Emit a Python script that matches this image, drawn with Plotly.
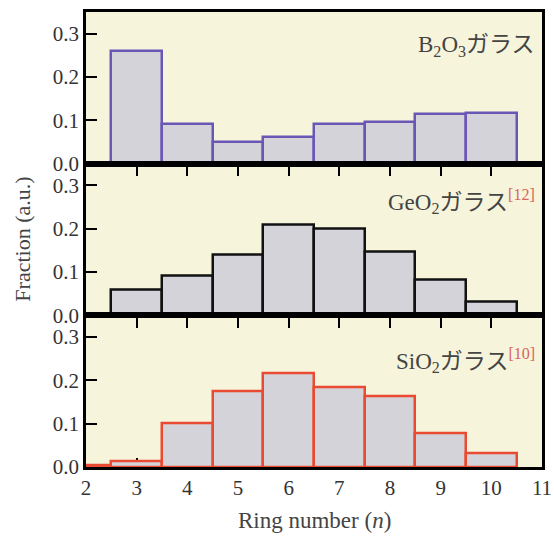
import plotly.graph_objects as go
from plotly.subplots import make_subplots

# Data
ring_b2o3 = [3, 4, 5, 6, 7, 8, 9, 10]
frac_b2o3 = [0.260, 0.091, 0.051, 0.061, 0.092, 0.096, 0.114, 0.116]

ring_geo2 = [2, 3, 4, 5, 6, 7, 8, 9, 10]
frac_geo2 = [0.003, 0.060, 0.091, 0.139, 0.209, 0.201, 0.148, 0.083, 0.031]

ring_sio2 = [2, 3, 4, 5, 6, 7, 8, 9, 10]
frac_sio2 = [0.003, 0.013, 0.100, 0.175, 0.217, 0.185, 0.164, 0.077, 0.032]

x_ticks = [2, 3, 4, 5, 6, 7, 8, 9, 10, 11]
inner_ticks = [3, 4, 5, 6, 7, 8, 9, 10]
y_ticks = [0.0, 0.1, 0.2, 0.3]
y_ticktext = ["0.0", "0.1", "0.2", "0.3"]

labels = ["B<sub>2</sub>O<sub>3</sub>ガラス",
          "GeO<sub>2</sub>ガラス<sup><span style='color:#d9645c'>[12]</span></sup>",
          "SiO<sub>2</sub>ガラス<sup><span style='color:#d9645c'>[10]</span></sup>"]
label_y = [0.272, 0.262, 0.245]
edge_colors = ["#6a56b4", "#111111", "#ea4a32"]

FILL = "#d3d3d9"
BG = "#f6f5dc"
FONT = "Liberation Serif, Noto Sans CJK JP, serif"

fig = make_subplots(rows=3, cols=1, shared_xaxes=False, vertical_spacing=0)

series = [(ring_b2o3, frac_b2o3), (ring_geo2, frac_geo2), (ring_sio2, frac_sio2)]
for i, (xs, ys) in enumerate(series):
    fig.add_trace(go.Bar(x=xs, y=ys, width=1.0,
                         marker=dict(color=FILL, line=dict(color=edge_colors[i], width=2.5)),
                         showlegend=False), row=i + 1, col=1)

domains = [[2 / 3, 1.0], [1 / 3, 2 / 3], [0.0, 1 / 3]]
for i in range(3):
    r = i + 1
    last = (i == 2)
    fig.update_xaxes(row=r, col=1, range=[2, 11], domain=[0, 1], automargin=False,
                     showline=True, mirror=True, linecolor="black", linewidth=2.5,
                     ticks="inside" if last else "outside",
                     ticklen=9 if last else 10, tickwidth=2, tickcolor="black",
                     tickvals=x_ticks if last else inner_ticks,
                     showticklabels=last, showgrid=False, zeroline=False,
                     layer="below traces" if last else "above traces",
                     tickfont=dict(family=FONT, size=21, color="#333333"))
    fig.update_yaxes(row=r, col=1, range=[0, 0.35], domain=domains[i], automargin=False,
                     showline=True, mirror=True, linecolor="black", linewidth=2.5,
                     ticks="inside", ticklen=11, tickwidth=2, tickcolor="black",
                     tickvals=y_ticks, ticktext=y_ticktext,
                     showgrid=False, zeroline=False,
                     tickfont=dict(family=FONT, size=21, color="#333333"))
    xref = "x" if r == 1 else f"x{r}"
    yref = "y" if r == 1 else f"y{r}"
    fig.add_annotation(x=10.9, y=label_y[i], xref=xref, yref=yref,
                       text=labels[i], showarrow=False, xanchor="right", yanchor="middle",
                       font=dict(family=FONT, size=23, color="#444444"))

fig.add_annotation(x=-0.14, y=0.5, xref="paper", yref="paper", xanchor="center", yanchor="middle",
                   text="Fraction (a.u.)", textangle=-90, showarrow=False,
                   font=dict(family=FONT, size=22, color="#444444"))

fig.add_annotation(x=0.5, y=-0.118, xref="paper", yref="paper", xanchor="center", yanchor="middle",
                   text="Ring number (<i>n</i>)", showarrow=False,
                   font=dict(family=FONT, size=23, color="#444444"))

fig.update_layout(width=554, height=543,
                  margin=dict(l=86, r=12, t=12, b=76),
                  paper_bgcolor="white", plot_bgcolor=BG,
                  bargap=0, barmode="overlay")

fig.write_html("out.html")
